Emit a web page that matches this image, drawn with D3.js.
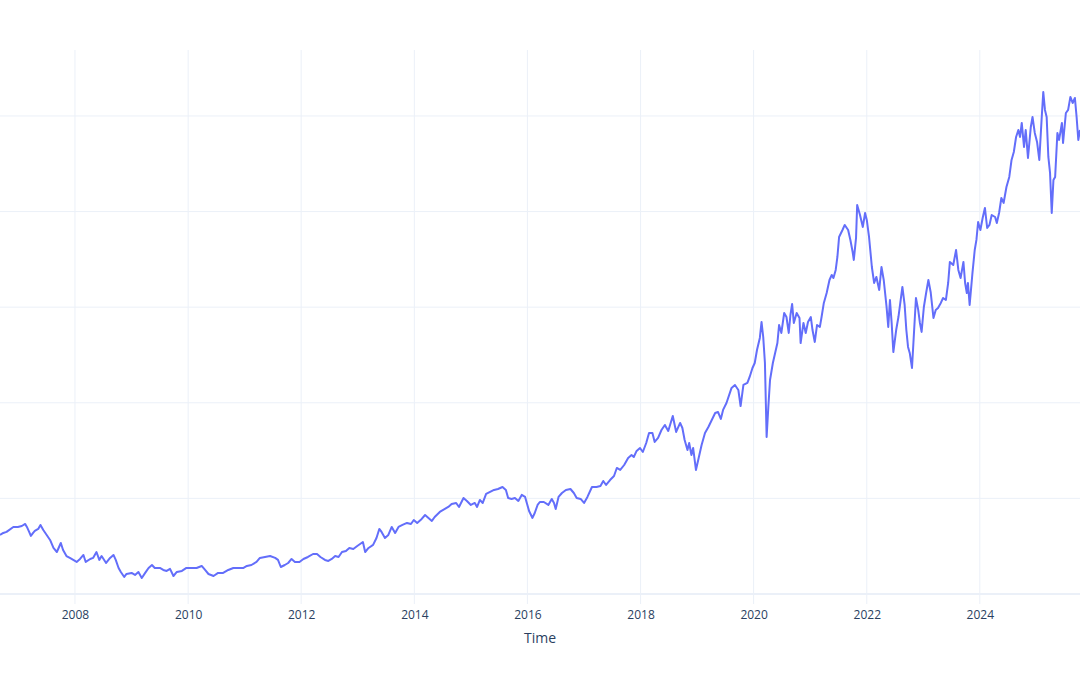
<!DOCTYPE html>
<html><head><meta charset="utf-8">
<script src="https://cdn.jsdelivr.net/npm/d3@7"></script>
<style>body{margin:0;background:#fff}svg{display:block}</style>
</head><body><svg id="chart" width="1080" height="675"></svg>
<script>
// time as decimal years
const timeYears = [
2006.674,2006.732,2006.79,2006.91,2006.99,2007.06,2007.12,2007.15,2007.19,2007.22,2007.26,2007.29,2007.35,2007.39,2007.44,2007.50,2007.56,2007.62,2007.68,2007.75,2007.79,2007.85,2007.91,2007.97,
2008.03,2008.09,2008.15,2008.19,2008.27,2008.32,2008.38,2008.43,2008.47,2008.55,2008.62,2008.68,2008.72,2008.77,2008.81,2008.87,2008.91,
2009.00,2009.06,2009.12,2009.18,2009.24,2009.30,2009.36,2009.41,2009.50,2009.56,2009.62,2009.68,2009.74,2009.80,2009.89,2009.97,
2010.06,2010.15,2010.24,2010.30,2010.36,2010.45,2010.53,2010.62,2010.71,2010.80,2010.89,2010.98,
2011.04,2011.12,2011.21,2011.27,2011.36,2011.45,2011.54,2011.59,2011.64,2011.71,2011.77,2011.83,2011.89,2011.97,
2012.04,2012.12,2012.21,2012.28,2012.34,2012.42,2012.48,2012.54,2012.60,2012.66,2012.72,2012.79,2012.85,2012.92,2012.99,
2013.04,2013.09,2013.13,2013.19,2013.27,2013.33,2013.38,2013.42,2013.48,2013.54,2013.60,2013.66,2013.72,2013.79,2013.87,2013.94,2013.99,
2014.05,2014.13,2014.19,2014.25,2014.31,2014.36,2014.45,2014.54,2014.60,2014.66,2014.74,2014.79,2014.87,2014.93,
2015.00,2015.07,2015.11,2015.16,2015.21,2015.27,2015.34,2015.41,2015.48,2015.56,2015.62,2015.66,2015.72,2015.78,2015.84,2015.90,2015.96,2015.99,
2016.03,2016.09,2016.13,2016.18,2016.22,2016.29,2016.37,2016.43,2016.47,2016.50,2016.55,2016.61,2016.68,2016.76,2016.82,2016.87,2016.94,
2017.00,2017.06,2017.14,2017.22,2017.29,2017.34,2017.39,2017.46,2017.53,2017.58,2017.64,2017.71,2017.78,2017.84,2017.88,2017.93,2017.99,
2018.04,2018.10,2018.15,2018.21,2018.25,2018.31,2018.37,2018.43,2018.49,2018.57,2018.63,2018.70,2018.74,2018.78,2018.83,2018.86,2018.90,2018.93,2018.98,
2019.02,2019.08,2019.14,2019.20,2019.26,2019.32,2019.37,2019.42,2019.46,2019.52,2019.61,2019.67,2019.73,2019.77,2019.82,2019.89,2019.93,2019.98,
2020.02,2020.06,2020.11,2020.14,2020.17,2020.20,2020.23,2020.26,2020.29,2020.34,2020.38,2020.42,2020.45,2020.49,2020.54,2020.58,2020.62,2020.65,2020.68,2020.71,2020.76,2020.81,2020.83,2020.88,2020.92,2020.96,
2021.01,2021.04,2021.08,2021.12,2021.17,2021.20,2021.24,2021.29,2021.34,2021.38,2021.41,2021.45,2021.48,2021.51,2021.57,2021.61,2021.67,2021.71,2021.75,2021.77,2021.81,2021.83,2021.88,2021.93,2021.97,
2022.00,2022.04,2022.09,2022.13,2022.17,2022.22,2022.26,2022.30,2022.35,2022.38,2022.41,2022.44,2022.47,2022.52,2022.56,2022.60,2022.63,2022.67,2022.70,2022.73,2022.76,2022.80,2022.83,2022.87,2022.91,2022.94,2022.97,
2023.01,2023.05,2023.09,2023.13,2023.18,2023.22,2023.26,2023.31,2023.35,2023.40,2023.44,2023.47,2023.53,2023.58,2023.62,2023.66,2023.71,2023.74,2023.77,2023.79,2023.82,2023.87,2023.91,2023.94,2023.97,
2024.01,2024.05,2024.09,2024.13,2024.17,2024.21,2024.27,2024.30,2024.34,2024.38,2024.42,2024.47,2024.52,2024.56,2024.60,2024.64,2024.68,2024.71,2024.74,2024.78,2024.81,2024.85,2024.90,2024.93,2024.97,
2025.01,2025.05,2025.09,2025.12,2025.15,2025.18,2025.21,2025.24,2025.27,2025.30,2025.33,2025.37,2025.40,2025.45,2025.47,2025.52,2025.56,2025.60,2025.64,2025.68,2025.71,2025.74,2025.77
];
const prices = [
61.7,63.8,64.9,70.1,70.1,71.1,73.2,70.1,64.9,60.7,63.8,65.9,68.0,72.2,66.9,61.7,56.5,48.1,43.9,53.3,46.0,39.7,37.7,35.6,
33.5,36.6,40.8,33.5,36.6,37.7,43.9,35.6,39.7,32.4,37.7,40.8,35.6,27.2,23.0,17.8,20.9,
22.0,19.9,23.0,16.7,22.0,27.2,30.3,27.2,27.2,25.1,24.1,26.2,18.8,23.0,24.1,27.2,
27.2,27.2,29.3,25.1,20.9,18.8,22.0,22.0,25.1,27.2,27.2,27.2,
29.3,30.3,33.5,37.7,38.7,39.7,37.7,35.6,28.2,30.3,32.4,36.6,33.5,33.5,
36.6,38.7,41.8,41.8,38.7,35.6,34.5,36.6,39.7,38.7,43.9,45.0,48.1,47.1,50.2,
52.3,54.4,43.9,48.1,51.3,58.6,68.0,64.9,58.6,61.7,70.1,63.8,70.1,72.2,74.3,73.2,77.4,
74.3,78.5,82.6,79.5,76.4,80.5,85.8,88.9,91.0,94.1,95.2,91.0,100.4,97.3,
93.1,95.2,91.0,98.3,95.2,104.6,106.7,108.8,109.8,111.9,108.8,100.4,99.4,100.4,97.3,103.6,101.5,95.2,
86.8,79.5,84.7,93.1,96.2,96.2,93.1,99.4,95.2,88.9,101.5,105.6,108.8,109.8,105.6,100.4,99.4,
95.2,101.5,111.9,111.9,113.0,118.2,114.0,119.2,123.4,131.8,129.7,134.9,142.3,145.4,143.3,149.6,152.7,
148.5,157.9,168.4,168.4,159.0,163.2,171.5,176.8,170.5,186.2,169.5,178.9,173.6,161.1,150.6,157.9,145.4,152.7,129.7,
140.2,155.9,168.4,174.7,182.0,189.3,190.4,183.1,192.5,199.8,215.5,218.6,213.4,196.6,218.6,220.7,227.0,236.4,
241.6,255.2,267.8,284.5,268.8,241.6,164.2,195.6,223.8,241.6,252.1,262.5,281.4,273.0,293.9,289.7,273.0,291.8,303.3,283.5,293.9,288.7,262.5,283.5,273.0,284.5,
289.7,276.1,263.6,281.4,279.3,289.7,304.4,314.8,328.4,333.7,330.5,338.9,352.5,373.4,380.7,386.0,380.7,370.3,357.7,349.4,372.4,406.9,396.4,383.9,398.5,
391.2,373.4,342.0,325.3,331.6,318.0,342.0,328.4,300.2,279.3,307.5,283.5,253.1,276.1,289.7,307.5,321.1,302.3,276.1,258.4,252.1,236.4,267.8,309.6,297.1,283.5,274.1,
300.2,314.8,328.4,315.9,288.7,297.1,299.2,304.4,309.6,307.5,325.3,347.3,344.1,359.8,338.9,330.5,347.3,325.3,314.8,325.3,302.3,335.8,359.8,370.3,389.1,
380.7,393.3,403.8,382.8,386.0,396.4,394.3,388.1,398.5,414.2,409.0,425.7,436.2,454.0,462.3,478.0,485.3,478.0,492.7,467.6,485.3,456.1,488.5,498.9,482.2,
472.8,454.0,495.8,525.1,506.3,498.9,457.1,440.4,398.5,433.0,436.2,482.2,474.9,492.7,471.7,503.1,506.3,519.9,513.6,518.8,498.9,474.9,485.3
];
const xTickYears = [2008,2010,2012,2014,2016,2018,2020,2022,2024];
const yTickValues = [0,100,200,300,400,500];
const xAxisTitle = "Time";

const W = 1080, H = 675;
const plot = {left: 0, right: 1080, top: 50, bottom: 604};
const FONT = '"Open Sans", verdana, arial, sans-serif';
const TEXT = '#2a3f5f', GRID = '#EBF0F8', LINE = '#636efa';

function toDate(t) {
  const yr = Math.floor(t);
  const s = new Date(yr, 0, 1), e = new Date(yr + 1, 0, 1);
  return new Date(+s + (t - yr) * (e - s));
}
const data = timeYears.map((t, i) => ({date: toDate(t), value: prices[i]}));

const x = d3.scaleTime().domain(d3.extent(data, d => d.date)).range([plot.left, plot.right]);
const y = d3.scaleLinear().domain([-10.5, 569]).range([plot.bottom, plot.top]);

const svg = d3.select('#chart');
svg.append('rect').attr('width', W).attr('height', H).attr('fill', '#fff');

const tickDates = xTickYears.map(v => new Date(v, 0, 1));

// grid
svg.append('g').selectAll('line').data(tickDates).join('line')
  .attr('x1', d => x(d)).attr('x2', d => x(d))
  .attr('y1', plot.top).attr('y2', plot.bottom)
  .attr('stroke', GRID).attr('stroke-width', 1);
svg.append('g').selectAll('line').data(yTickValues).join('line')
  .attr('x1', plot.left).attr('x2', plot.right)
  .attr('y1', d => y(d)).attr('y2', d => y(d))
  .attr('stroke', GRID).attr('stroke-width', d => d === 0 ? 2 : 1);

// line
svg.append('defs').append('clipPath').attr('id', 'clip')
  .append('rect').attr('x', plot.left).attr('y', plot.top)
  .attr('width', plot.right - plot.left).attr('height', plot.bottom - plot.top);
svg.append('path').datum(data)
  .attr('clip-path', 'url(#clip)')
  .attr('fill', 'none').attr('stroke', LINE).attr('stroke-width', 2)
  .attr('stroke-linejoin', 'round')
  .attr('d', d3.line().x(d => x(d.date)).y(d => y(d.value)));

// x axis labels
const xa = svg.append('g').attr('transform', `translate(0,${plot.bottom + 14.5})`)
  .call(d3.axisBottom(x).tickValues(tickDates).tickFormat(d3.timeFormat('%Y')).tickSize(0).tickPadding(0));
xa.select('.domain').remove();
xa.selectAll('text').attr('y', 0).attr('dy', null)
  .attr('fill', TEXT).style('font-family', FONT).style('font-size', '12px');

svg.append('text').attr('x', (plot.left + plot.right) / 2).attr('y', 642.7)
  .attr('text-anchor', 'middle').attr('fill', TEXT)
  .style('font-family', FONT).style('font-size', '14px').text(xAxisTitle);
</script></body></html>
